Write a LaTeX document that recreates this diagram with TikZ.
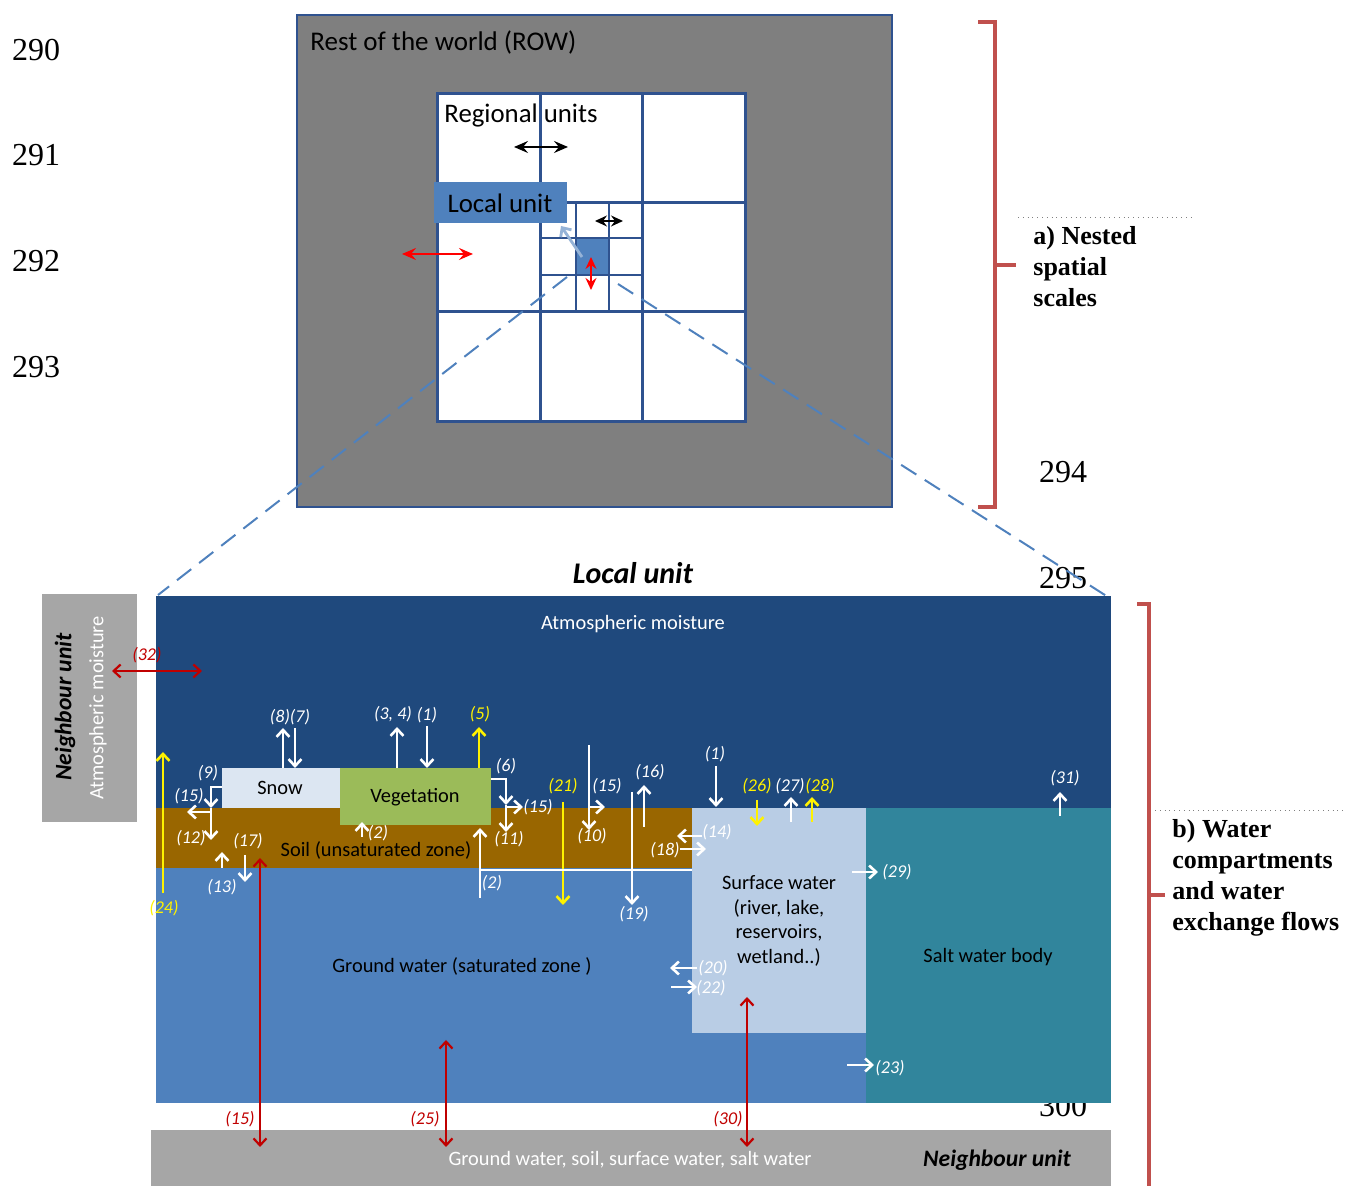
\documentclass[tikz,border=0pt]{standalone}
\usepackage{fontspec}
\setmainfont{Carlito}
\newfontfamily\numfont{Liberation Serif}
\usetikzlibrary{arrows.meta}

\definecolor{rowgray}{RGB}{127,127,127}
\definecolor{gridblue}{RGB}{47,82,143}
\definecolor{cellblue}{RGB}{79,129,189}
\definecolor{pointblue}{RGB}{149,179,215}
\definecolor{atmblue}{RGB}{31,73,125}
\definecolor{soilbrown}{RGB}{153,102,0}
\definecolor{swblue}{RGB}{185,205,229}
\definecolor{saltblue}{RGB}{49,133,156}
\definecolor{snowblue}{RGB}{220,230,242}
\definecolor{veggreen}{RGB}{155,187,89}
\definecolor{nbgray}{RGB}{166,166,166}
\definecolor{bracketred}{RGB}{192,80,77}
\definecolor{flowred}{RGB}{192,0,0}

\tikzset{
	barb/.tip={Straight Barb[length=3.5pt,width=6.5pt]},
	sharp/.tip={Stealth[length=7pt,width=6pt,inset=2.5pt]},
	smallsharp/.tip={Stealth[length=6pt,width=5.5pt,inset=2pt]},
	flow/.style={white, line width=1.3pt, -barb},
	yflow/.style={flow, yellow},
	rflow/.style={flowred, line width=1.1pt, barb-barb},
	scaleflow/.style={line width=1pt, sharp-sharp},
	lbl/.style={text=white, font=\fontsize{9}{10}\selectfont\itshape, inner sep=0pt},
	ylbl/.style={lbl, text=yellow},
	rlbl/.style={lbl, text=flowred},
	comp/.style={font=\fontsize{10.2}{12.2}\selectfont, inner sep=0pt, align=center},
	big/.style={font=\fontsize{13.4}{15}\selectfont, inner sep=0pt},
	nbfont/.style={font=\bfseries\itshape\fontsize{11.8}{13}\selectfont, inner sep=0pt},
	lineno/.style={font=\numfont\fontsize{16}{18}\selectfont, inner sep=0pt},
	part/.style={font=\numfont\bfseries\fontsize{13}{15.5}\selectfont, align=left, inner sep=0pt, anchor=north west},
	brace/.style={bracketred, line width=2pt},
	gridline/.style={gridblue, line width=1.5pt},
}

\begin{document}
\begin{tikzpicture}[x=0.5pt, y=-0.5pt]
			%%%%% START %%%%%
			\useasboundingbox (0,0) rectangle (1346,1186);
			
			% line numbers
			\node[lineno] (n290) at (36,50) {290};
			\node[lineno] (n291) at (36,155) {291};
			\node[lineno] (n292) at (36,261) {292};
			\node[lineno] (n293) at (36,367) {293};
			\node[lineno] (n294) at (1063,472) {294};
			\node[lineno] (n295) at (1063,578) {295};
			\node[lineno] (n300) at (1063,1106) {300};
			
			% nested spatial scales
			\fill[rowgray] (297,15) rectangle (892,507);
			\draw[gridblue, line width=1pt] (297,15) rectangle (892,507);
			\node[big, anchor=west, font=\fontsize{13.5}{15}\selectfont] (row) at (310,43) {Rest of the world (ROW)};
			
			\fill[white] (437,94) rectangle (745,422);
			\fill[cellblue] (576,238) rectangle (609,275);
			\foreach \x in {540,642}
				\draw[gridline] (\x,94) -- (\x,422);
			\foreach \y in {203,312}
				\draw[gridline] (437,\y) -- (745,\y);
			\foreach \x in {576,609}
				\draw[gridline, line width=1.2pt] (\x,203) -- (\x,312);
			\foreach \y in {238,275}
				\draw[gridline, line width=1.2pt] (540,\y) -- (642,\y);
			\draw[gridline] (437,94) rectangle (745,422);
			
			\node[big, anchor=west] (reg) at (444,116) {Regional units};
			\draw[scaleflow, black] (514,147) -- (568,147);
			\draw[scaleflow, black, line width=0.8pt, smallsharp-smallsharp] (595,221) -- (623,221);
			\draw[scaleflow, red] (402,254) -- (473,254);
			\draw[scaleflow, red, line width=0.8pt, smallsharp-smallsharp] (591,257) -- (591,290);
			
			\fill[cellblue] (434,182) rectangle (567,223);
			\node[big] (lu) at (500,203) {Local unit};
			\draw[pointblue, line width=1.4pt, -barb] (582,257) -- (561,226);
			
			\draw[cellblue, line width=1pt, dash pattern=on 9pt off 5pt] (567,277) -- (158,595);
			\draw[cellblue, line width=1pt, dash pattern=on 9pt off 5pt] (618,284) -- (1108,597);
			
			\draw[brace] (978,22) -- (995,22) -- (995,507) -- (978,507);
			\draw[brace] (995,265) -- (1016,265);
			\draw[gray, dotted, line width=0.4pt] (1018,217) -- (1192,217);
			\node[part] (parta) at (1033,226) {a) Nested\\spatial\\scales};
			
			% local unit
			\node[font=\bfseries\itshape\fontsize{15}{17}\selectfont, inner sep=0pt] (lutitle) at (633,573) {Local unit};
			
			\fill[nbgray] (42,594) rectangle (137,822);
			\node[nbfont, rotate=90] (nbl) at (65,707) {Neighbour unit};
			\node[rotate=90, comp, text=white] (nbatm) at (98,708) {Atmospheric moisture};
			
			\fill[atmblue] (156,596) rectangle (1111,808);
			\fill[soilbrown] (156,808) rectangle (692,868);
			\fill[cellblue] (156,868) rectangle (866,1103);
			\fill[swblue] (692,808) rectangle (866,1033);
			\fill[saltblue] (866,808) rectangle (1111,1103);
			\fill[snowblue] (222,768) rectangle (340,808);
			\fill[veggreen] (340,768) rectangle (491,825);
			\fill[nbgray] (151,1130) rectangle (1111,1190);
			
			\node[comp, text=white] (atm) at (633,624) {Atmospheric moisture};
			\node[comp] (snow) at (280,788) {Snow};
			\node[comp] (veg) at (415,797) {Vegetation};
			\node[comp] (soil) at (376,850) {Soil (unsaturated zone)};
			\node[comp] (gw) at (462,966) {Ground water (saturated zone )};
			\node[comp] (sw) at (779,921) {Surface water\\(river, lake,\\reservoirs,\\wetland..)};
			\node[comp] (salt) at (988,957) {Salt water body};
			\node[comp, text=white] (nbgw) at (630,1160) {Ground water, soil, surface water, salt water};
			\node[nbfont] (nbr) at (997,1160) {Neighbour unit};
			
			\draw[brace] (1137,604) -- (1149,604) -- (1149,1190);
			\draw[brace] (1149,895) -- (1165,895);
			\draw[gray, dotted, line width=0.4pt] (1155,810) -- (1345,810);
			\node[part] (partb) at (1172,819) {b) Water\\compartments\\and water\\exchange flows};
			
			% yellow flows
			\draw[yflow] (163,893) -- (163,752);
			\node[ylbl] (f24) at (164,908) {(24)};
			\draw[yflow] (479,768) -- (479,727);
			\node[ylbl] (f5) at (480,714) {(5)};
			\draw[yflow] (563,802) -- (563,905);
			\node[ylbl] (f21) at (563,786) {(21)};
			\draw[yflow] (757,800) -- (757,826);
			\node[ylbl] (f26) at (757,786) {(26)};
			\draw[yflow] (812,822) -- (812,797);
			\node[ylbl] (f28) at (820,786) {(28)};
			
			% white flows
			\draw[flow] (283,768) -- (283,728);
			\draw[flow] (295,728) -- (295,768);
			\node[lbl] (f87) at (290,717) {(8)(7)};
			\draw[flow] (397,768) -- (397,727);
			\node[lbl] (f34) at (393,714) {(3, 4)};
			\draw[flow] (427,726) -- (427,768);
			\node[lbl] (f1a) at (427,715) {(1)};
			
			\draw[flow] (222,787) -| (211,808);
			\draw[flow] (211,808) -- (211,840);
			\draw[flow] (211,812) -- (187,812);
			\node[lbl] (f9) at (208,773) {(9)};
			\node[lbl] (f15a) at (189,796) {(15)};
			\node[lbl] (f12) at (191,838) {(12)};
			\draw[flow] (222,868) -- (222,852);
			\node[lbl] (f13) at (222,887) {(13)};
			\draw[flow] (245,855) -- (245,882);
			\node[lbl] (f17) at (248,841) {(17)};
			\draw[flow] (362,837) -- (362,822);
			\node[lbl] (f2a) at (378,833) {(2)};
			
			\draw[flow] (491,779) -| (506,805);
			\draw[flow] (506,805) -- (506,832);
			\draw[flow] (506,807) -- (523,807);
			\node[lbl] (f6) at (506,766) {(6)};
			\node[lbl] (f15b) at (538,807) {(15)};
			\node[lbl] (f11) at (509,839) {(11)};
			\draw[white, line width=1.3pt] (480,870) -- (692,870);
			\draw[flow] (480,898) -- (480,828);
			\node[lbl] (f2b) at (492,883) {(2)};
			
			\draw[flow] (589,745) -- (589,830);
			\node[lbl] (f10) at (592,836) {(10)};
			\draw[flow] (589,807) -- (605,807);
			\node[lbl] (f15c) at (607,786) {(15)};
			\draw[flow] (632,792) -- (632,905);
			\node[lbl] (f19) at (634,914) {(19)};
			\draw[flow] (644,827) -- (644,785);
			\node[lbl] (f16) at (650,772) {(16)};
			\draw[flow] (716,766) -- (716,807);
			\node[lbl] (f1b) at (715,754) {(1)};
			\draw[flow] (702,836) -- (677,836);
			\node[lbl] (f14) at (717,832) {(14)};
			\draw[flow] (680,849) -- (706,849);
			\node[lbl] (f18) at (665,850) {(18)};
			\draw[flow] (791,822) -- (791,797);
			\node[lbl] (f27) at (790,786) {(27)};
			\draw[flow] (852,872) -- (878,872);
			\node[lbl] (f29) at (897,872) {(29)};
			\draw[flow] (697,968) -- (670,968);
			\node[lbl] (f20) at (713,968) {(20)};
			\draw[flow] (671,987) -- (697,987);
			\node[lbl] (f22) at (711,988) {(22)};
			\draw[flow] (847,1065) -- (874,1065);
			\node[lbl] (f23) at (890,1068) {(23)};
			\draw[flow] (1060,816) -- (1060,792);
			\node[lbl] (f31) at (1065,778) {(31)};
			
			% red flows to neighbours
			\draw[rflow] (112,671) -- (202,671);
			\node[rlbl] (f32) at (147,655) {(32)};
			\draw[rflow] (260,858) -- (260,1147);
			\node[rlbl] (f15d) at (240,1119) {(15)};
			\draw[rflow] (446,1040) -- (446,1147);
			\node[rlbl] (f25) at (425,1119) {(25)};
			\draw[rflow] (747,997) -- (747,1147);
			\node[rlbl] (f30) at (728,1119) {(30)};
			
			%%%%% END %%%%%
\end{tikzpicture}
\end{document}
